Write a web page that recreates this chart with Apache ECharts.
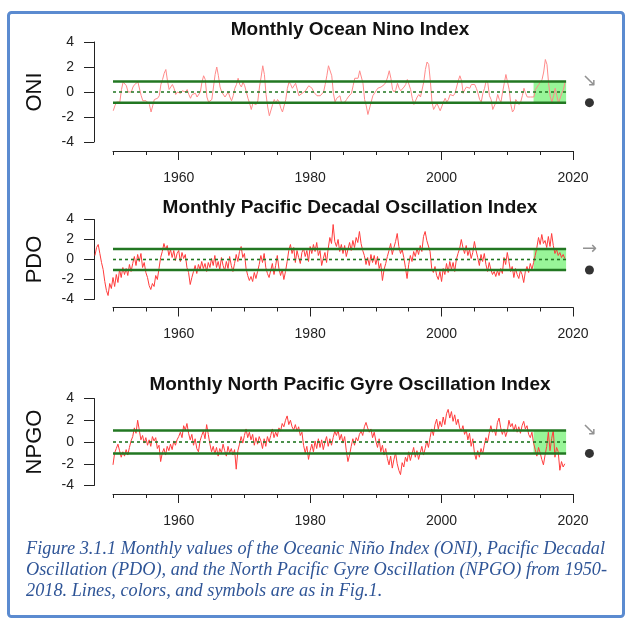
<!DOCTYPE html>
<html><head><meta charset="utf-8">
<script src="https://cdn.jsdelivr.net/npm/echarts@6/dist/echarts.min.js"></script>
<style>html,body{margin:0;padding:0;background:#fff}#c{width:631px;height:622px}</style>
</head><body><div id="c"></div>
<script>
// ---------------- data ----------------
const panelTitles = ['Monthly Ocean Nino Index', 'Monthly Pacific Decadal Oscillation Index', 'Monthly North Pacific Gyre Oscillation Index'];
const yNames = ['ONI', 'PDO', 'NPGO'];
const xTickLabels = [1960, 1980, 2000, 2020];
const stepYears = 0.25;
const oniStart = 1950.04;
const pdoStart = 1947.25;
const npgoStart = 1950.0;

const oniValues = [
-1.5,-1.1,-0.8,-0.8, -0.8,0.2,0.8,0.8, 0.5,0.0,-0.1,0.0, 0.4,0.6,0.7,0.8, 0.7,-0.3,-0.7,-0.7,
-0.7,-0.8,-1.0,-1.6, -1.1,-0.6,-0.6,-0.5, -0.3,0.6,1.0,1.5, 1.8,0.9,0.2,0.4, 0.6,0.3,-0.2,0.0,
-0.1,-0.1,0.1,0.0, 0.0,0.2,-0.2,-0.5, -0.2,-0.3,-0.1,-0.4, -0.4,0.0,0.8,1.3, 1.0,-0.4,-0.8,-0.8,
-0.6,0.4,1.4,2.0, 1.3,0.4,0.0,-0.1, -0.4,-0.3,0.0,-0.4, -0.7,-0.3,0.3,0.6, 1.1,0.6,0.4,0.8,
0.5,0.0,-0.5,-0.9, -1.4,-0.9,-0.8,-1.0, -0.7,0.4,1.2,2.1, 1.4,-0.2,-1.2,-1.9, -1.8,-1.0,-0.6,-0.9,
-0.6,-0.8,-1.3,-1.6, -1.5,-0.6,0.3,0.8, 0.6,0.3,0.4,0.7, 0.6,-0.3,-0.4,-0.1, 0.0,0.1,0.2,0.5,
0.6,0.3,0.0,-0.1, -0.3,-0.3,-0.3,-0.2, 0.0,0.6,1.3,2.1, 2.2,1.3,-0.1,-0.8, -0.5,-0.4,-0.3,-0.9,
-1.0,-0.8,-0.6,-0.4, -0.5,-0.1,0.5,1.1, 1.2,1.1,1.7,1.2, 0.7,-0.6,-1.1,-1.8, -1.7,-0.8,-0.3,-0.2,
0.1,0.3,0.4,0.4, 0.4,0.6,0.8,1.2, 1.7,1.1,0.2,0.0, 0.2,0.7,0.3,0.1, 0.1,0.4,0.6,1.0,
0.9,0.2,-0.5,-1.0, -0.9,-0.4,-0.2,-0.4, -0.5,0.8,1.8,2.4, 2.2,0.9,-0.8,-1.4, -1.5,-0.9,-1.0,-1.5,
-1.6,-0.8,-0.5,-0.8, -0.6,-0.2,-0.1,-0.3, -0.1,0.4,0.9,1.3, 0.9,-0.1,0.2,0.4, 0.3,0.3,0.6,0.7,
0.6,0.3,-0.1,-0.6, -0.8,-0.1,0.3,0.9, 0.7,-0.3,-0.6,-1.4, -1.5,-0.8,-0.2,-0.6, -0.8,0.0,0.7,1.4,
1.5,0.2,-1.0,-1.6, -1.4,-0.6,-0.5,-1.0, -0.8,-0.3,0.3,-0.1, -0.4,-0.3,-0.4,-0.3, -0.4,0.2,0.1,0.6,
0.6,1.0,1.6,2.6, 2.2,0.7,-0.4,-0.8, -0.3,0.3,-0.3,-0.9, -0.9,-0.1,0.2,0.8
];

const pdoValues = [
0.4,1.2,1.5, 0.6,-0.3,-1.0,-2.2, -3.1,-3.6,-2.4,-2.9,
-1.8,-2.7,-1.5,-2.3, -1.0,-1.8,-0.8,-1.5, -0.9,-1.6,-0.5,-1.2, -0.4,0.3,-0.6,0.5, -0.2,0.6,-0.8,-0.3,
-1.3,-1.8,-2.6,-3.0, -2.4,-2.7,-1.6,-2.0, -0.9,0.2,0.8,1.6, 1.0,1.4,0.4,1.0, 0.2,0.9,-0.1,0.6,
0.9,-0.2,0.7,0.1, 0.5,-0.8,-1.3,-2.5, -1.8,-1.2,-0.6,-1.4, -0.5,-1.0,-0.2,-0.9, -0.4,-1.2,-0.3,-0.8,
0.1,-0.6,0.4,-0.8, -0.2,-1.0,0.2,-0.6, -1.1,-0.2,-0.9,0.3, -0.6,-1.2,-0.4,0.5, -0.2,0.8,1.3,0.2,
0.6,-0.9,-1.6,-2.1, -1.7,-2.2,-1.3,-1.9, -1.2,-0.5,0.4,-0.3, 0.6,-0.8,-1.4,-1.8, -1.1,-0.4,-1.5,-0.6,
0.4,-0.9,-1.6,-1.0, -2.0,-1.2,-0.2,0.9, 1.5,0.6,1.2,-0.3, 0.9,0.2,-0.4,0.7, 1.1,0.3,0.9,-0.2,
1.3,0.6,1.5,0.8, 1.7,0.4,0.9,-0.6, 0.1,0.7,-0.3,1.1, 2.2,1.6,3.5,1.8, 1.3,2.0,0.8,1.5,
0.6,1.4,0.3,1.0, 1.7,0.9,1.9,1.2, 2.2,1.7,2.8,1.6, 0.9,0.4,-0.5,0.2, -0.6,0.5,-0.3,0.4,
-0.5,0.3,-0.9,-0.4, -2.1,-1.0,-0.4,0.3, 0.9,1.6,0.5,1.2, 1.8,2.6,1.3,0.6, 1.0,0.2,-0.8,-1.9,
-0.5,0.4,-0.2,0.8, 0.3,1.1,0.5,1.4, 0.8,2.3,2.8,1.9, 2.1,0.8,-0.9,-1.3, -0.7,-1.6,-2.0,-1.2,
-2.2,-0.9,-1.5,-0.4, -1.3,-0.2,-1.0,-0.3, -1.2,0.0,0.6,1.1, 2.0,1.2,0.6,1.4, 0.4,1.0,0.1,0.7,
1.8,0.9,0.2,-0.6, 0.5,-0.2,0.6,-0.5, -1.2,-0.3,-1.0,-1.5, -1.2,-1.7,-1.1,-1.6, -0.9,-1.4,0.2,-0.5,
0.7,-0.2,-1.2,-0.7, -1.8,-0.9,-1.5,-1.9, -1.1,-1.5,-2.3,-1.2, -0.7,-1.3,-0.4,-1.0, -0.3,0.4,1.2,2.2,
1.5,2.5,1.6,1.9, 1.2,2.3,1.3,2.6, 1.4,0.6,1.0,0.4, 0.7,0.2,0.5,0.1
];

const npgoValues = [
-2.1,-1.0,-0.6,-0.2, -0.8,-1.4,-0.9,-1.3, -0.7,-1.2,-0.5,0.1, 0.5,1.3,0.8,2.0, 1.1,0.2,0.6,-0.1,
0.4,-0.3,0.2,-0.4, 0.5,0.1,0.4,-0.6, -0.3,-1.8,-1.0,-0.6, -1.2,-0.4,-0.8,-0.2, -0.7,0.1,-0.3,0.2,
0.5,0.9,0.4,1.5, 1.1,1.7,0.8,0.2, 0.7,-0.3,0.3,-0.6, -0.9,0.1,0.6,1.0, 0.3,1.6,0.7,-0.2,
-0.9,-0.4,-1.1,-0.5, -1.3,-0.6,-1.0,-0.2, -0.8,-1.3,-0.4,-1.0, -0.6,-1.2,-0.7,-2.5, -0.8,-0.2,0.5,-0.1,
0.6,1.2,0.4,0.9, 0.2,0.7,-0.3,0.4, -0.2,0.5,0.1,-0.6, 0.3,-0.4,0.5,0.0, 0.6,1.2,0.4,0.9,
0.5,1.3,1.0,1.7, 1.4,2.0,2.4,1.6, 2.0,1.4,1.1,1.6, 1.0,1.4,0.6,0.9, -0.3,-1.0,-0.4,-1.6,
-0.8,-0.2,-0.9,0.1, -0.6,0.3,-0.5,0.2, -0.7,0.0,0.5,-0.4, 0.3,-0.3,0.4,1.0, 0.6,1.1,0.2,0.7,
-0.1,0.5,-0.8,-1.8, -1.2,-0.4,0.3,-0.3, 0.4,0.1,0.7,1.0, 0.6,1.4,1.8,1.3, 0.9,1.2,0.4,0.9,
0.1,-0.5,0.3,-0.9, -0.3,-1.2,-0.6,-1.5, -2.1,-1.3,-2.4,-1.6, -1.0,-2.0,-2.6,-3.0, -1.9,-2.3,-1.4,-1.8,
-0.9,-1.7,-1.1,-0.5, -1.4,-0.8,-1.6,-1.0, -0.4,-1.2,-0.6,0.1, -0.5,0.4,1.2,0.6, 1.6,2.1,1.2,1.9,
1.4,2.3,1.6,2.6, 3.0,2.2,2.8,1.9, 2.5,1.6,2.1,1.3, 1.0,1.5,0.7,1.1, 0.2,0.8,-0.4,0.3,
-1.0,-1.6,-0.8,-1.4, -0.6,-1.1,-0.3,0.4, 0.0,0.8,1.5,0.9, 1.2,0.6,1.8,2.2, 1.3,0.7,1.2,0.5,
1.0,2.0,1.4,1.7, 1.0,1.6,0.9,1.4, 0.8,1.5,1.9,1.2, 1.5,0.7,0.4,0.9, -0.1,-0.7,-1.3,-0.5,
-1.0,-1.6,-2.1,-1.2, -0.4,0.9,-0.8,0.3, 1.1,-1.4,-0.5,-0.9, -2.6,-1.8,-2.3,-2.0
];

const sdLevels = [0.85, 1.05, 1.05];
const sdLineStart = 1950;
const sdLineEnd = 2018.95;
const bandStart = 2014;
const trendSymbols = ['\u2198', '\u2192', '\u2198'];
const markerYear = 2022.5;

// ---------------- layout ----------------
const axisLeftPx = 113, axisRightPx = 573;         // 1950 .. 2020 on the visible x axis
const plotLeftPx = 94, plotRightPx = 606;          // full plot region (y axis sits at plotLeftPx)
const axisMin = 1950, axisMax = 2020;
const pxPerYear = (axisRightPx - axisLeftPx) / (axisMax - axisMin);
const dataMin = axisMin - (axisLeftPx - plotLeftPx) / pxPerYear;
const dataMax = axisMax + (plotRightPx - axisRightPx) / pxPerYear;
const W = 631;
const panels = [
  { top: 42, height: 100, xOff: 9 },
  { top: 219.5, height: 80, xOff: 8 },
  { top: 398.5, height: 87, xOff: 8.5 }
];
const titleY = [29.5, 207.5, 385];

function toPairs(start, vals) { return vals.map((v, i) => [start + i * stepYears, v]); }
const seriesData = [toPairs(oniStart, oniValues), toPairs(pdoStart, pdoValues), toPairs(npgoStart, npgoValues)];
const lineColors = ['#ff8a8a', '#ff3c3c', '#ff3c3c'];
const green = '#227722';

const option = { animation: false, grid: [], xAxis: [], yAxis: [], series: [], graphic: [] };
const axisFont = { fontFamily: 'Liberation Sans', fontSize: 14, color: '#222' };

panels.forEach((g, i) => {
  // grid 2i: data region; grid 2i+1: visible x axis
  option.grid.push({ left: plotLeftPx, right: W - plotRightPx, top: g.top, height: g.height });
  option.grid.push({ left: axisLeftPx, right: W - axisRightPx, top: g.top, height: g.height });
  option.xAxis.push({
    gridIndex: 2 * i, type: 'value', min: dataMin, max: dataMax, show: false,
    axisLine: { onZero: false }, splitLine: { show: false }
  });
  option.xAxis.push({
    gridIndex: 2 * i + 1, type: 'value', position: 'bottom', min: axisMin, max: axisMax, interval: 5, offset: g.xOff,
    axisLine: { show: true, onZero: false, lineStyle: { color: '#222', width: 1 } },
    axisTick: { show: true, length: 4, lineStyle: { color: '#222' } },
    axisLabel: { show: false }, splitLine: { show: false }
  });
  option.xAxis.push({
    gridIndex: 2 * i + 1, type: 'value', position: 'bottom', min: axisMin, max: axisMax, offset: g.xOff,
    axisLine: { show: false, onZero: false },
    axisTick: { show: true, length: 9, customValues: xTickLabels, lineStyle: { color: '#222' } },
    axisLabel: Object.assign({ show: true, margin: 20, customValues: xTickLabels, formatter: v => String(v) }, axisFont),
    splitLine: { show: false }
  });
  option.yAxis.push({
    gridIndex: 2 * i, type: 'value', min: -4, max: 4, interval: 2,
    axisLine: { show: true, onZero: false, lineStyle: { color: '#222', width: 1 } },
    axisTick: { show: true, length: 10, lineStyle: { color: '#222' } },
    axisLabel: Object.assign({ margin: 20 }, axisFont),
    splitLine: { show: false },
    name: yNames[i], nameLocation: 'middle', nameRotate: 90, nameGap: 48,
    nameTextStyle: { fontFamily: 'Liberation Sans', fontSize: 22, color: '#111' }
  });
  option.yAxis.push({ gridIndex: 2 * i + 1, type: 'value', min: -4, max: 4, show: false });

  const xi = 3 * i, yi = 2 * i, sd = sdLevels[i];
  option.series.push({
    type: 'line', xAxisIndex: xi, yAxisIndex: yi, data: [[bandStart, 0]], showSymbol: false, symbol: 'none',
    lineStyle: { width: 0 }, z: 1, silent: true,
    markArea: { silent: true, itemStyle: { color: '#98f598' }, data: [[{ coord: [bandStart, -sd] }, { coord: [sdLineEnd, sd] }]] }
  });
  option.series.push({
    type: 'line', xAxisIndex: xi, yAxisIndex: yi, data: seriesData[i], showSymbol: false, symbol: 'none',
    lineStyle: { color: lineColors[i], width: 1 }, z: 3, silent: true
  });
  [sd, -sd].forEach(v => option.series.push({
    type: 'line', xAxisIndex: xi, yAxisIndex: yi, data: [[sdLineStart, v], [sdLineEnd, v]], symbol: 'none',
    lineStyle: { color: green, width: 2.5 }, z: 4, silent: true
  }));
  option.series.push({
    type: 'line', xAxisIndex: xi, yAxisIndex: yi, data: [[sdLineStart, 0], [sdLineEnd, 0]], symbol: 'none',
    lineStyle: { color: green, width: 1.6, type: [3, 3] }, z: 4, silent: true
  });
  option.series.push({
    type: 'scatter', xAxisIndex: xi, yAxisIndex: yi, data: [[markerYear, -sd]],
    symbol: 'circle', symbolSize: 9, itemStyle: { color: '#000' }, z: 5, silent: true
  });
  option.series.push({
    type: 'scatter', xAxisIndex: xi, yAxisIndex: yi, data: [[markerYear, sd]],
    symbol: 'circle', symbolSize: 1, itemStyle: { color: 'rgba(0,0,0,0)' }, z: 5, silent: true,
    label: { show: true, position: 'inside', formatter: trendSymbols[i], fontFamily: 'DejaVu Sans', fontSize: 18, color: '#777' }
  });
  option.graphic.push({
    type: 'text', x: 350, y: titleY[i],
    style: { text: panelTitles[i], textAlign: 'center', textVerticalAlign: 'middle', font: 'bold 19px "Liberation Sans"', fill: '#111' }
  });
});

const captionLines = [
  'Figure 3.1.1 Monthly values of the Oceanic Niño Index (ONI), Pacific Decadal',
  'Oscillation (PDO), and the North Pacific Gyre Oscillation (NPGO) from 1950-',
  '2018. Lines, colors, and symbols are as in Fig.1.'
];
const captionY = [549, 570, 591];
captionLines.forEach((t, k) => option.graphic.push({
  type: 'text', x: 26, y: captionY[k],
  style: { text: t, textAlign: 'left', textVerticalAlign: 'middle', font: 'italic 18.3px "Liberation Serif"', fill: '#2f5597' }
}));
option.graphic.push({
  type: 'rect', shape: { x: 8.5, y: 12.5, width: 615, height: 604, r: 3 },
  style: { fill: 'none', stroke: '#5b8bd0', lineWidth: 3 }, z: 100
});

const chart = echarts.init(document.getElementById('c'), null, { renderer: 'canvas' });
chart.setOption(option);
</script></body></html>
